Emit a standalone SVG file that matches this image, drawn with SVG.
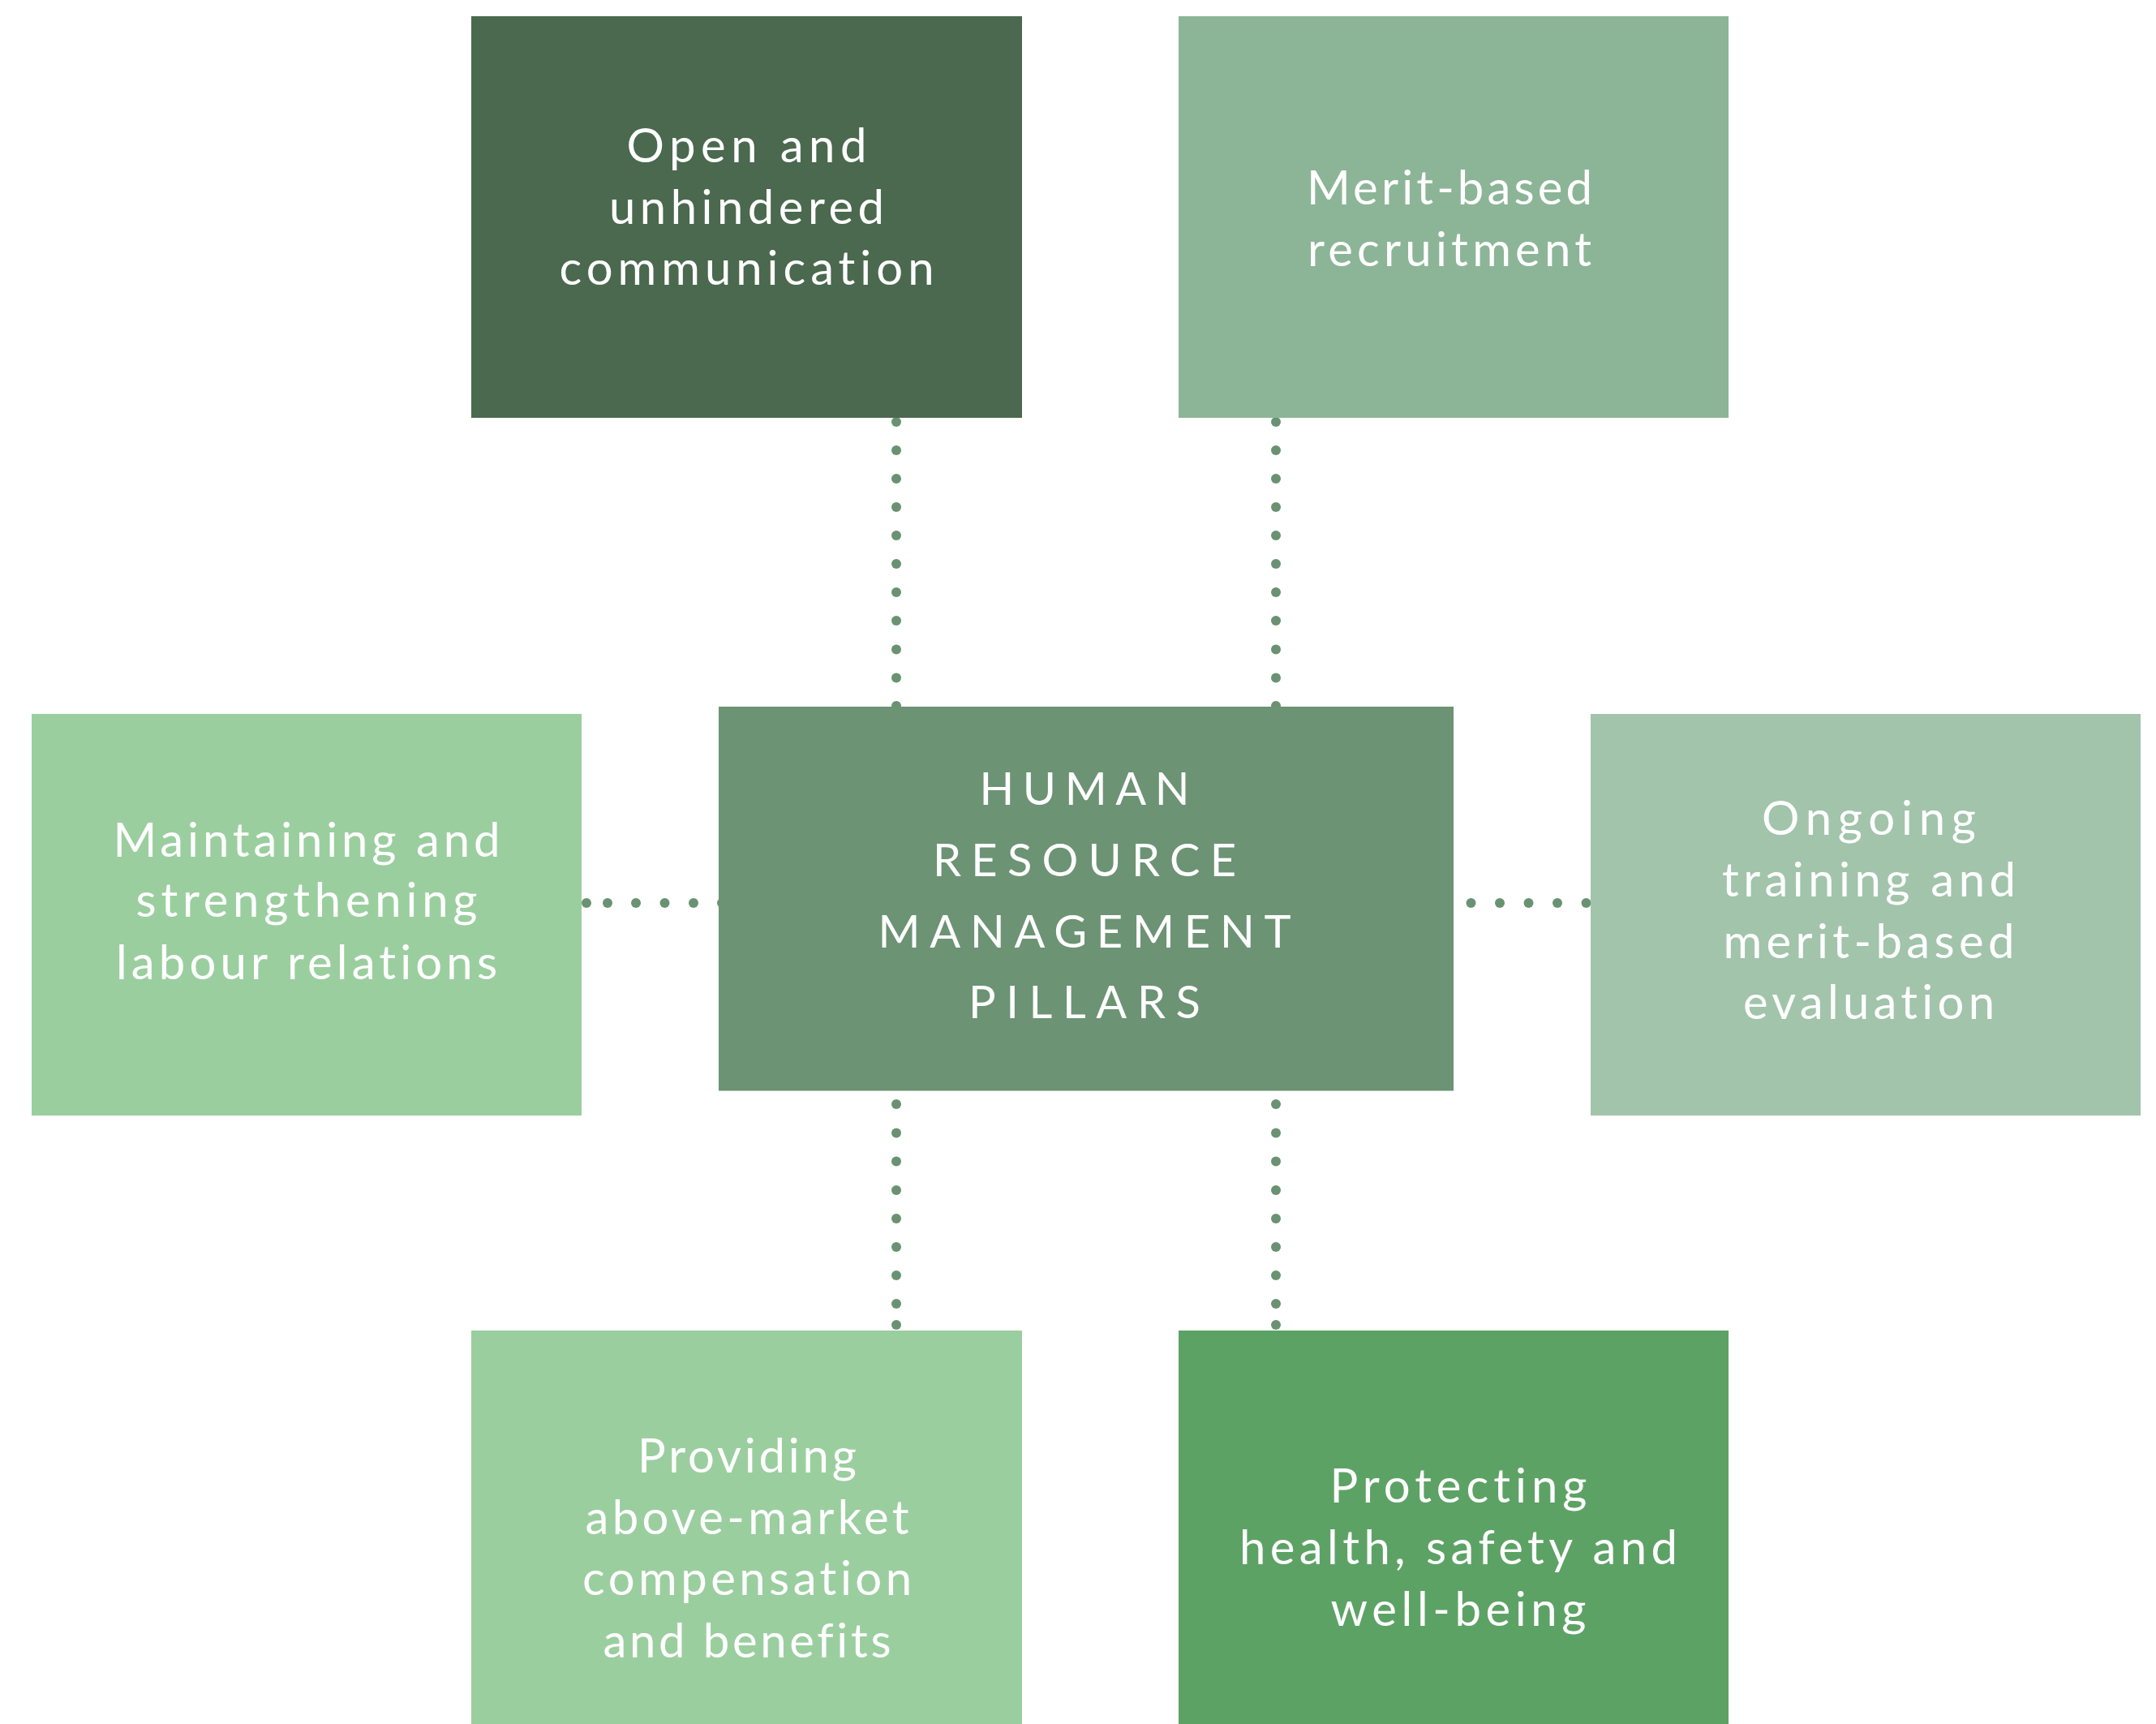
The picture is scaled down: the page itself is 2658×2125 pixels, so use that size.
<svg xmlns="http://www.w3.org/2000/svg" width="2658" height="2125" viewBox="0 0 2658 2125">
  <style>
    .lbl { font-family: Lato, "Open Sans", "Noto Sans", sans-serif; font-size: 58px; fill: #ffffff; text-anchor: middle; font-variant-ligatures: none; font-feature-settings: "liga" 0, "clig" 0, "dlig" 0; }
    .title { font-family: Lato, "Open Sans", "Noto Sans", sans-serif; font-size: 56px; fill: #ffffff; text-anchor: middle; font-variant-ligatures: none; font-feature-settings: "liga" 0; }
    .dot { fill: #6A9272; }
  </style>
  <rect width="2658" height="2125" fill="#ffffff"/>

  <g id="connectors">
    <g id="c-topleft">
      <circle class="dot" cx="1105" cy="520" r="6"/><circle class="dot" cx="1105" cy="555" r="6"/><circle class="dot" cx="1105" cy="590" r="6"/><circle class="dot" cx="1105" cy="625" r="6"/><circle class="dot" cx="1105" cy="660" r="6"/><circle class="dot" cx="1105" cy="695" r="6"/><circle class="dot" cx="1105" cy="730" r="6"/><circle class="dot" cx="1105" cy="765" r="6"/><circle class="dot" cx="1105" cy="800.5" r="6"/><circle class="dot" cx="1105" cy="835.5" r="6"/><circle class="dot" cx="1105" cy="870" r="6"/>
    </g>
    <g id="c-topright">
      <circle class="dot" cx="1573" cy="520" r="6"/><circle class="dot" cx="1573" cy="555" r="6"/><circle class="dot" cx="1573" cy="590" r="6"/><circle class="dot" cx="1573" cy="625" r="6"/><circle class="dot" cx="1573" cy="660" r="6"/><circle class="dot" cx="1573" cy="695" r="6"/><circle class="dot" cx="1573" cy="730" r="6"/><circle class="dot" cx="1573" cy="765" r="6"/><circle class="dot" cx="1573" cy="800.5" r="6"/><circle class="dot" cx="1573" cy="835.5" r="6"/><circle class="dot" cx="1573" cy="870" r="6"/>
    </g>
    <g id="c-left">
      <circle class="dot" cx="723" cy="1113" r="6"/><circle class="dot" cx="749" cy="1113" r="6"/><circle class="dot" cx="784" cy="1113" r="6"/><circle class="dot" cx="819.5" cy="1113" r="6"/><circle class="dot" cx="855" cy="1113" r="6"/><circle class="dot" cx="890" cy="1113" r="6"/>
    </g>
    <g id="c-right">
      <circle class="dot" cx="1813.5" cy="1113" r="6"/><circle class="dot" cx="1849" cy="1113" r="6"/><circle class="dot" cx="1884.5" cy="1113" r="6"/><circle class="dot" cx="1920" cy="1113" r="6"/><circle class="dot" cx="1955.5" cy="1113" r="6"/>
    </g>
    <g id="c-bottomleft">
      <circle class="dot" cx="1105" cy="1361" r="6"/><circle class="dot" cx="1105" cy="1396.5" r="6"/><circle class="dot" cx="1105" cy="1431.5" r="6"/><circle class="dot" cx="1105" cy="1467" r="6"/><circle class="dot" cx="1105" cy="1502" r="6"/><circle class="dot" cx="1105" cy="1537" r="6"/><circle class="dot" cx="1105" cy="1572" r="6"/><circle class="dot" cx="1105" cy="1607" r="6"/><circle class="dot" cx="1105" cy="1633" r="6"/>
    </g>
    <g id="c-bottomright">
      <circle class="dot" cx="1573" cy="1361" r="6"/><circle class="dot" cx="1573" cy="1396.5" r="6"/><circle class="dot" cx="1573" cy="1431.5" r="6"/><circle class="dot" cx="1573" cy="1467" r="6"/><circle class="dot" cx="1573" cy="1502" r="6"/><circle class="dot" cx="1573" cy="1537" r="6"/><circle class="dot" cx="1573" cy="1572" r="6"/><circle class="dot" cx="1573" cy="1607" r="6"/><circle class="dot" cx="1573" cy="1633" r="6"/>
    </g>
  </g>

  <g id="node-communication">
    <rect x="581" y="20" width="679" height="495" fill="#4A694E"/>
    <text class="lbl" x="920.5" y="200" textLength="296" lengthAdjust="spacing">Open and</text>
    <text class="lbl" x="920.5" y="275.5" textLength="339" lengthAdjust="spacing">unhindered</text>
    <text class="lbl" x="920.5" y="351" textLength="462" lengthAdjust="spacing">communication</text>
  </g>

  <g id="node-recruitment">
    <rect x="1453" y="20" width="678" height="495" fill="#8CB597"/>
    <text class="lbl" x="1787" y="252.3" textLength="352" lengthAdjust="spacing">Merit-based</text>
    <text class="lbl" x="1787" y="328.3" textLength="350" lengthAdjust="spacing">recruitment</text>
  </g>

  <g id="node-center">
    <rect x="886" y="871" width="906" height="473.5" fill="#6C9374"/>
    <text class="title" x="1337" y="991.7" textLength="259" lengthAdjust="spacing">HUMAN</text>
    <text class="title" x="1337" y="1080" textLength="374" lengthAdjust="spacing">RESOURCE</text>
    <text class="title" x="1337" y="1167.7" textLength="509" lengthAdjust="spacing">MANAGEMENT</text>
    <text class="title" x="1337" y="1255" textLength="286" lengthAdjust="spacing">PILLARS</text>
  </g>

  <g id="node-labour">
    <rect x="39" y="880" width="678" height="495" fill="#9BCE9F"/>
    <text class="lbl" x="378" y="1055.7" textLength="477" lengthAdjust="spacing">Maintaining and</text>
    <text class="lbl" x="378" y="1130" textLength="421" lengthAdjust="spacing">strengthening</text>
    <text class="lbl" x="378" y="1206.7" textLength="470" lengthAdjust="spacing">labour relations</text>
  </g>

  <g id="node-training">
    <rect x="1961" y="880" width="678" height="495" fill="#A1C4AB"/>
    <text class="lbl" x="2304" y="1028.7" textLength="264" lengthAdjust="spacing">Ongoing</text>
    <text class="lbl" x="2304" y="1104.5" textLength="362" lengthAdjust="spacing">training and</text>
    <text class="lbl" x="2304" y="1181" textLength="359" lengthAdjust="spacing">merit-based</text>
    <text class="lbl" x="2304" y="1256" textLength="310" lengthAdjust="spacing">evaluation</text>
  </g>

  <g id="node-compensation">
    <rect x="581" y="1640" width="679" height="485" fill="#9BCE9F"/>
    <text class="lbl" x="921" y="1815" textLength="270" lengthAdjust="spacing">Providing</text>
    <text class="lbl" x="921" y="1891" textLength="399" lengthAdjust="spacing">above-market</text>
    <text class="lbl" x="921" y="1966" textLength="406" lengthAdjust="spacing">compensation</text>
    <text class="lbl" x="921" y="2043" textLength="355" lengthAdjust="spacing">and benefits</text>
  </g>

  <g id="node-health">
    <rect x="1453" y="1640" width="678" height="485" fill="#5DA265"/>
    <text class="lbl" x="1798" y="1852" textLength="317" lengthAdjust="spacing">Protecting</text>
    <text class="lbl" x="1798" y="1928" textLength="540" lengthAdjust="spacing">health, safety and</text>
    <text class="lbl" x="1798" y="2004" textLength="315" lengthAdjust="spacing">well-being</text>
  </g>
</svg>
